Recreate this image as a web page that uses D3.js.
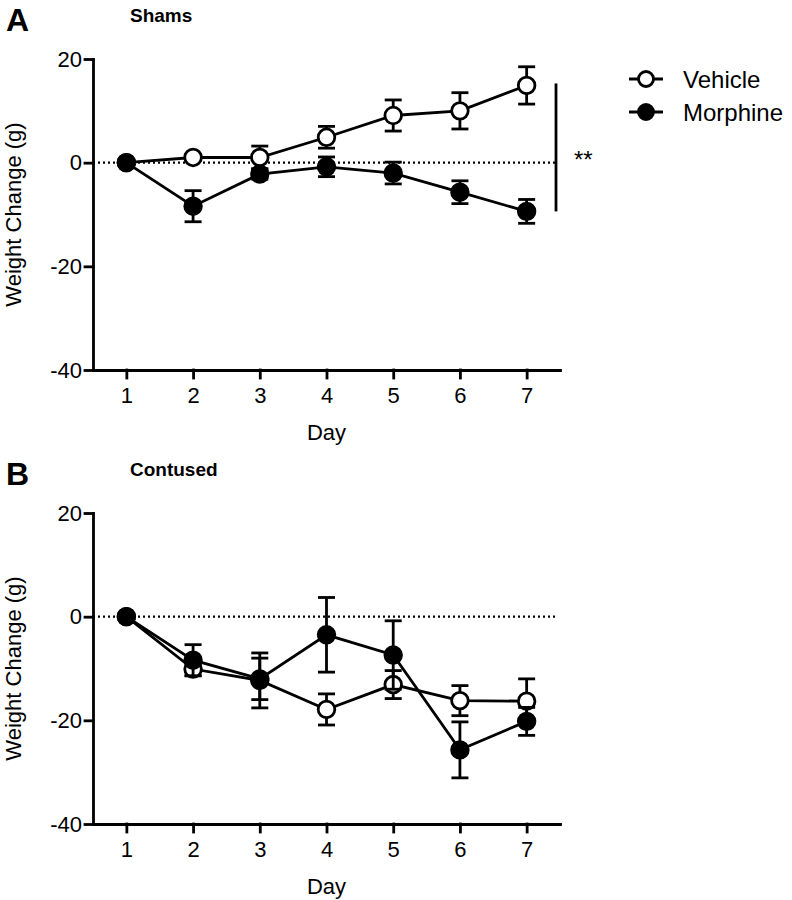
<!DOCTYPE html>
<html>
<head>
<meta charset="utf-8">
<script src="https://cdn.jsdelivr.net/npm/d3@7"></script>
<style>
  body { margin: 0; background: #fff; }
  svg { font-family: "Liberation Sans", Arial, Helvetica, sans-serif; }
</style>
</head>
<body>
<svg id="chart" width="792" height="900"></svg>
<script>
// Data
const days = [1, 2, 3, 4, 5, 6, 7];
const yTicks = [-40, -20, 0, 20];

// Panel A - Shams
const vehicleA = [0, 1.0, 1.0, 4.9, 9.1, 10.0, 14.9];
const vehicleAErr = [0, 0.6, 2.2, 2.1, 3.0, 3.5, 3.6];
const morphineA = [0, -8.4, -2.2, -0.8, -2.0, -5.7, -9.4];
const morphineAErr = [0, 3.0, 1.0, 1.9, 2.1, 2.2, 2.3];

// Panel B - Contused
const vehicleB = [0, -10.1, -12.3, -17.9, -13.1, -16.2, -16.3];
const vehicleBErr = [0, 1.3, 5.3, 3.0, 2.7, 2.9, 4.3];
const morphineB = [0, -8.4, -12.0, -3.5, -7.4, -25.7, -20.2];
const morphineBErr = [0, 3.0, 4.0, 7.2, 6.6, 5.4, 2.7];

const seriesNames = ["Vehicle", "Morphine"];

const svg = d3.select("#chart");
const lw = 2.8;
const r = 8.3;
const capW = 8.5;

const x = d3.scaleLinear().domain([0.5, 7.5]).range([93, 560]);

function panel(letter, title, top, vehicle, vehicleErr, morphine, morphineErr) {
  // y range: 20 at top, -40 at top + 311
  const y = d3.scaleLinear().domain([-40, 20]).range([top + 311, top]);
  const g = svg.append("g");

  // panel letter & title
  g.append("text").attr("x", 6).attr("y", top - 28)
    .attr("font-size", 32).attr("font-weight", "bold").text(letter);
  g.append("text").attr("x", 130).attr("y", top - 37)
    .attr("font-size", 19).attr("font-weight", "bold").text(title);

  // zero reference line
  g.append("line")
    .attr("x1", x(0.5)).attr("x2", x(7.43))
    .attr("y1", y(0)).attr("y2", y(0))
    .attr("stroke", "#000").attr("stroke-width", 2.2)
    .attr("stroke-dasharray", "2,3");

  // axes
  const yAxis = g.append("g")
    .attr("transform", `translate(${x(0.5)},0)`)
    .call(d3.axisLeft(y).tickValues(yTicks).tickSize(8).tickSizeOuter(0).tickPadding(3)
      .tickFormat(d => String(d)));
  const xAxis = g.append("g")
    .attr("transform", `translate(0,${y(-40)})`)
    .call(d3.axisBottom(x).tickValues(days).tickSize(8).tickSizeOuter(0).tickPadding(9)
      .tickFormat(d => String(d)));
  [yAxis, xAxis].forEach(a => {
    a.selectAll("path, line").attr("stroke", "#000").attr("stroke-width", lw)
      .attr("stroke-linecap", "square");
    a.selectAll("text").attr("font-size", 22).attr("fill", "#000")
      .attr("font-family", "'Liberation Sans', Arial, Helvetica, sans-serif");
  });

  // axis titles
  g.append("text").attr("x", x(4)).attr("y", y(-40) + 70)
    .attr("text-anchor", "middle").attr("font-size", 22).text("Day");
  g.append("text")
    .attr("transform", `translate(21,${(y(20) + y(-40)) / 2}) rotate(-90)`)
    .attr("text-anchor", "middle").attr("font-size", 22).text("Weight Change (g)");

  const line = d3.line().x((d, i) => x(days[i])).y(d => y(d));

  function series(vals, errs, filled) {
    const s = g.append("g");
    s.append("path").datum(vals)
      .attr("fill", "none").attr("stroke", "#000").attr("stroke-width", lw)
      .attr("d", line);
    const eb = s.selectAll(".eb").data(vals.map((v, i) => ({ v, e: errs[i], d: days[i] })))
      .enter().append("g").filter(d => d.e > 0);
    eb.append("line")
      .attr("x1", d => x(d.d)).attr("x2", d => x(d.d))
      .attr("y1", d => y(d.v + d.e)).attr("y2", d => y(d.v - d.e))
      .attr("stroke", "#000").attr("stroke-width", lw);
    [1, -1].forEach(sg => {
      eb.append("line")
        .attr("x1", d => x(d.d) - capW).attr("x2", d => x(d.d) + capW)
        .attr("y1", d => y(d.v + sg * d.e)).attr("y2", d => y(d.v + sg * d.e))
        .attr("stroke", "#000").attr("stroke-width", lw);
    });
    s.selectAll("circle").data(vals).enter().append("circle")
      .attr("cx", (d, i) => x(days[i])).attr("cy", d => y(d)).attr("r", r)
      .attr("fill", filled ? "#000" : "#fff")
      .attr("stroke", "#000").attr("stroke-width", lw);
  }
  series(vehicle, vehicleErr, false);
  series(morphine, morphineErr, true);
  return y;
}

const yA = panel("A", "Shams", 59, vehicleA, vehicleAErr, morphineA, morphineAErr);
panel("B", "Contused", 513, vehicleB, vehicleBErr, morphineB, morphineBErr);

// significance bar for panel A
svg.append("line")
  .attr("x1", x(7.44)).attr("x2", x(7.44))
  .attr("y1", yA(vehicleA[6]) - 2).attr("y2", yA(morphineA[6]))
  .attr("stroke", "#000").attr("stroke-width", lw);
svg.append("text").attr("x", 574).attr("y", 168)
  .attr("font-size", 24).text("**");

// legend
const legend = svg.append("g");
seriesNames.forEach((name, i) => {
  const ly = 79 + i * 33;
  legend.append("line").attr("x1", 629).attr("x2", 663).attr("y1", ly).attr("y2", ly)
    .attr("stroke", "#000").attr("stroke-width", lw);
  legend.append("circle").attr("cx", 646).attr("cy", ly).attr("r", 7.5)
    .attr("fill", i === 0 ? "#fff" : "#000").attr("stroke", "#000").attr("stroke-width", lw);
  legend.append("text").attr("x", 683).attr("y", ly + 8.5)
    .attr("font-size", 24).text(name);
});
</script>
</body>
</html>
